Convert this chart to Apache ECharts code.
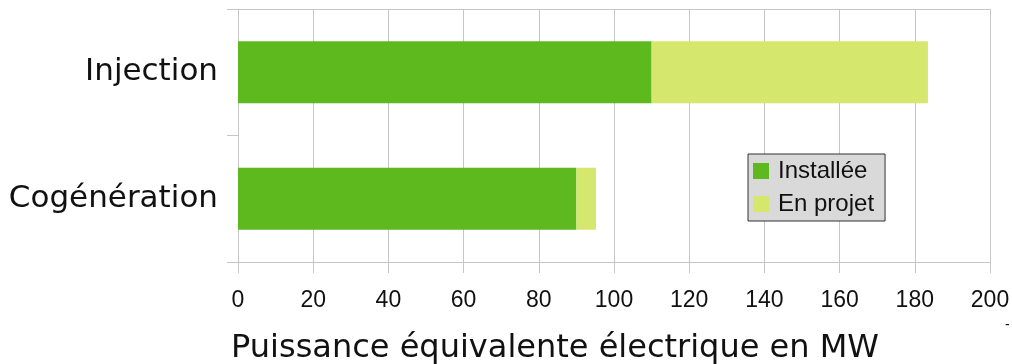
<!DOCTYPE html>
<html>
<head>
<meta charset="utf-8">
<script src="https://cdn.jsdelivr.net/npm/echarts@6/dist/echarts.min.js"></script>
<style>
  html, body { margin: 0; padding: 0; background: #fff; }
  #chart { width: 1012px; height: 364px; }
</style>
</head>
<body>
<div id="chart"></div>
<script>
// Categories, bottom to top on the vertical axis
const categories = ['Cogénération', 'Injection'];
// Power (MW electric equivalent)
const installee = [90, 110];
const enProjet = [5.2, 73.5];
const seriesNames = ['Installée', 'En projet'];
const axisTitle = 'Puissance équivalente électrique en MW';

const gridColor = '#c6c6c6';
const labelFont = '"DejaVu Sans", "Open Sans", sans-serif';
const tickFont = '"Liberation Sans", Arial, sans-serif';

const chart = echarts.init(document.getElementById('chart'), null, { renderer: 'canvas' });
chart.setOption({
  animation: false,
  grid: { left: 238, right: 22, top: 9, bottom: 102, containLabel: false, outerBoundsMode: 'none' },
  legend: {
    data: seriesNames,
    orient: 'vertical',
    left: 748,
    top: 154,
    backgroundColor: '#d9d9d9',
    borderColor: '#333',
    borderWidth: 1,
    borderRadius: 0,
    padding: [5, 11, 5, 5],
    itemWidth: 16,
    itemHeight: 16,
    itemGap: 9,
    icon: 'rect',
    textStyle: { fontFamily: tickFont, fontSize: 24, lineHeight: 24, color: '#111', padding: [0, 0, 0, 4] }
  },
  xAxis: [{
    type: 'value',
    min: 0, max: 200, interval: 20,
    position: 'bottom',
    axisLine: { show: true, lineStyle: { color: gridColor, width: 1 } },
    axisTick: { show: true, length: 11, lineStyle: { color: gridColor } },
    splitLine: { show: true, lineStyle: { color: gridColor, width: 1 } },
    axisLabel: { margin: 27, fontFamily: tickFont, fontSize: 23, color: '#111' },
    name: axisTitle,
    nameLocation: 'middle',
    nameGap: 71,
    nameTextStyle: { fontFamily: labelFont, fontSize: 32, color: '#111', padding: [0, 118, 0, 0] }
  }, {
    type: 'value',
    min: 0, max: 200,
    position: 'top',
    axisLine: { show: true, lineStyle: { color: gridColor, width: 1 } },
    axisTick: { show: false },
    axisLabel: { show: false },
    splitLine: { show: false }
  }],
  yAxis: {
    type: 'category',
    data: categories,
    boundaryGap: true,
    axisLine: { show: true, lineStyle: { color: gridColor } },
    axisTick: { show: true, length: 11, alignWithLabel: false, lineStyle: { color: gridColor } },
    axisLabel: { margin: 20, fontFamily: labelFont, fontSize: 31, color: '#111', padding: [10, 0, 0, 0] }
  },
  series: [{
    name: seriesNames[0],
    type: 'bar',
    stack: 'total',
    data: installee,
    barWidth: '49%',
    itemStyle: { color: '#5eb91f' }
  }, {
    name: seriesNames[1],
    type: 'bar',
    stack: 'total',
    data: enProjet,
    barWidth: '49%',
    itemStyle: { color: '#d5e86d' }
  }],
  graphic: [{
    type: 'text',
    left: 1005,
    top: 318,
    style: { text: '-', fontFamily: tickFont, fontSize: 14, fill: '#111' }
  }]
});
</script>
</body>
</html>
